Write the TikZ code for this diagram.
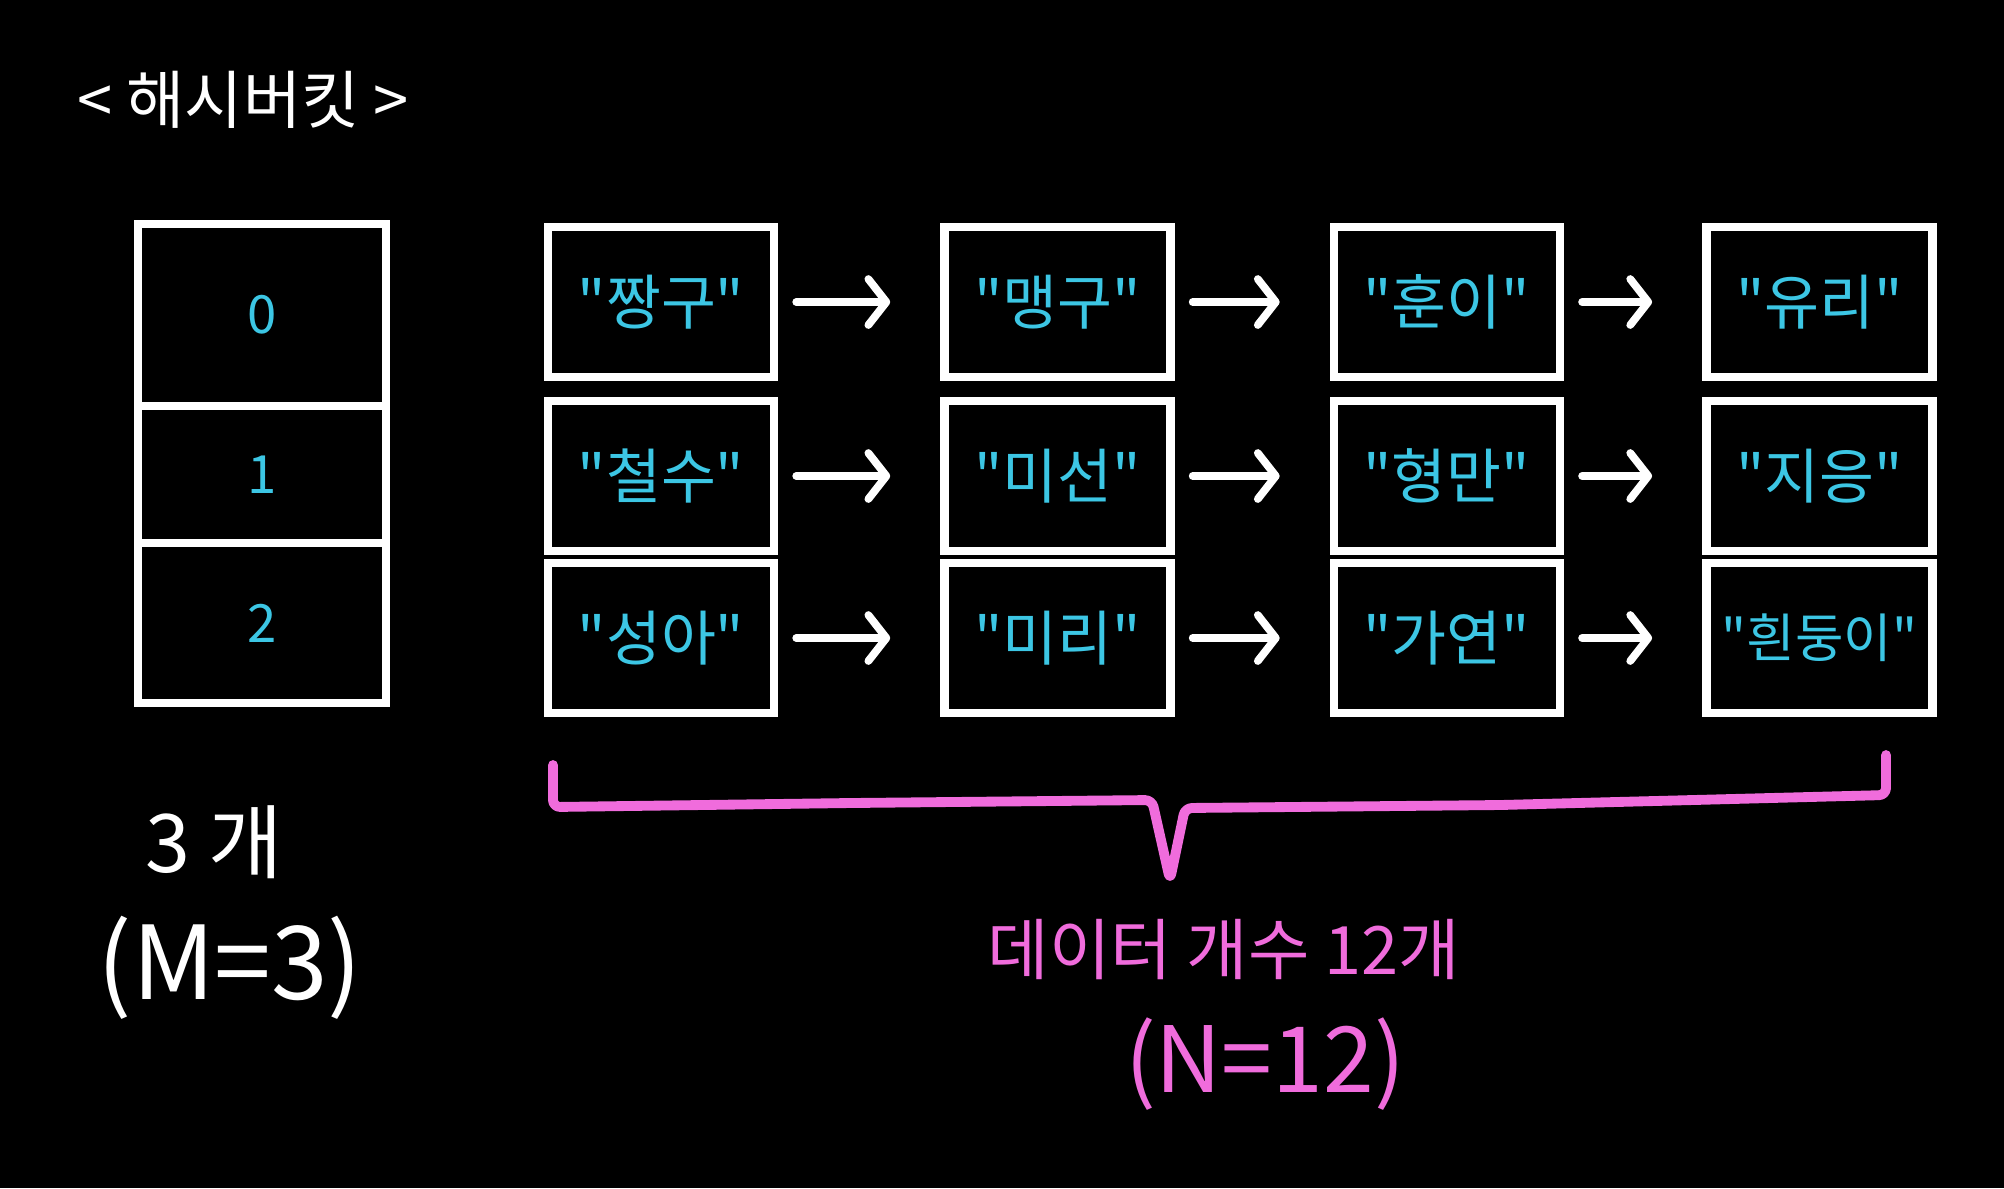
\documentclass[tikz,border=0pt]{standalone}
\usepackage{fontspec}
\setmainfont{Noto Sans CJK KR}[Ligatures=TeXOff]
\usepackage{tikz}
\usetikzlibrary{arrows.meta, positioning}
\usepackage{xcolor}
\definecolor{chalkcyan}{HTML}{3CC6E4}
\definecolor{chalkpink}{HTML}{F06CDC}

\begin{document}
\begin{tikzpicture}[
    cell/.style = {rectangle, draw=white, line width=2.4pt, outer sep=0pt, inner sep=0pt, minimum width=2.48cm, text=chalkcyan, font=\fontsize{15}{18}\selectfont},
    item/.style = {rectangle, draw=white, line width=2.4pt, inner sep=0pt, minimum width=2.26cm, minimum height=1.5cm, text=chalkcyan, font=\fontsize{17}{20}\selectfont},
    arrow/.style = {draw=white, line width=2.2pt, line cap=round, -{Straight Barb[length=1.8mm, width=4.6mm, round]}, shorten <=0.18cm, shorten >=0.5cm},
    note/.style = {text=white, align=center},
    pinknote/.style = {text=chalkpink, align=center},
    brace/.style = {draw=chalkpink, line width=2.8pt, line cap=round, line join=round, rounded corners=2pt}
]

% Background and page size
\fill[black] (0, 0) rectangle (20.04, -11.88);

% Title
\node (title) [note, font=\fontsize{18}{22}\selectfont, at={(2.43, -1.0)}] {< 해시버킷 >};

% Hash buckets (M = 3)
\node (b0) [cell, minimum height=1.82cm, at={(2.62, -3.15)}] {0};
\node (b1) [cell, minimum height=1.37cm, below=0pt of b0] {1};
\node (b2) [cell, minimum height=1.60cm, below=0pt of b1] {2};

% Row 0
\node (jjanggu) [item, at={(6.61, -3.02)}] {"짱구"};
\node (maenggu) [item, right=1.62cm of jjanggu] {"맹구"};
\node (huni) [item, right=1.55cm of maenggu] {"훈이"};
\node (yuri) [item, right=1.38cm of huni] {"유리"};

% Row 1
\node (cheolsu) [item, at={(6.61, -4.76)}] {"철수"};
\node (miseon) [item, right=1.62cm of cheolsu] {"미선"};
\node (hyeongman) [item, right=1.55cm of miseon] {"형만"};
\node (jieung) [item, right=1.38cm of hyeongman] {"지응"};

% Row 2
\node (seonga) [item, at={(6.61, -6.38)}] {"성아"};
\node (miri) [item, right=1.62cm of seonga] {"미리"};
\node (gayeon) [item, right=1.55cm of miri] {"가연"};
\node (heendungi) [item, font=\fontsize{15}{18}\selectfont, right=1.38cm of gayeon] {"흰둥이"};

% Chains
\draw [arrow] (jjanggu) -- (maenggu);
\draw [arrow] (maenggu) -- (huni);
\draw [arrow] (huni) -- (yuri);

\draw [arrow] (cheolsu) -- (miseon);
\draw [arrow] (miseon) -- (hyeongman);
\draw [arrow] (hyeongman) -- (jieung);

\draw [arrow] (seonga) -- (miri);
\draw [arrow] (miri) -- (gayeon);
\draw [arrow] (gayeon) -- (heendungi);

% Brace under all data
\draw [brace] (5.53, -7.65) -- (5.53, -8.07) -- (8.5, -8.03) -- (11.52, -8.0) -- (11.70, -8.80) -- (11.85, -8.08) -- (15.0, -8.05) -- (18.86, -7.95) -- (18.86, -7.55);

% Counts
\node (count_m) [note, font=\fontsize{23}{27}\selectfont, at={(2.14, -8.42)}] {3 개};
\node (eq_m) [note, font=\fontsize{29}{33}\selectfont, at={(2.30, -9.68)}] {(M=3)};
\node (count_n) [pinknote, font=\fontsize{19}{23}\selectfont, at={(12.24, -9.49)}] {데이터 개수 12개};
\node (eq_n) [pinknote, font=\fontsize{26}{30}\selectfont, at={(12.65, -10.64)}] {(N=12)};

\end{tikzpicture}
\end{document}
